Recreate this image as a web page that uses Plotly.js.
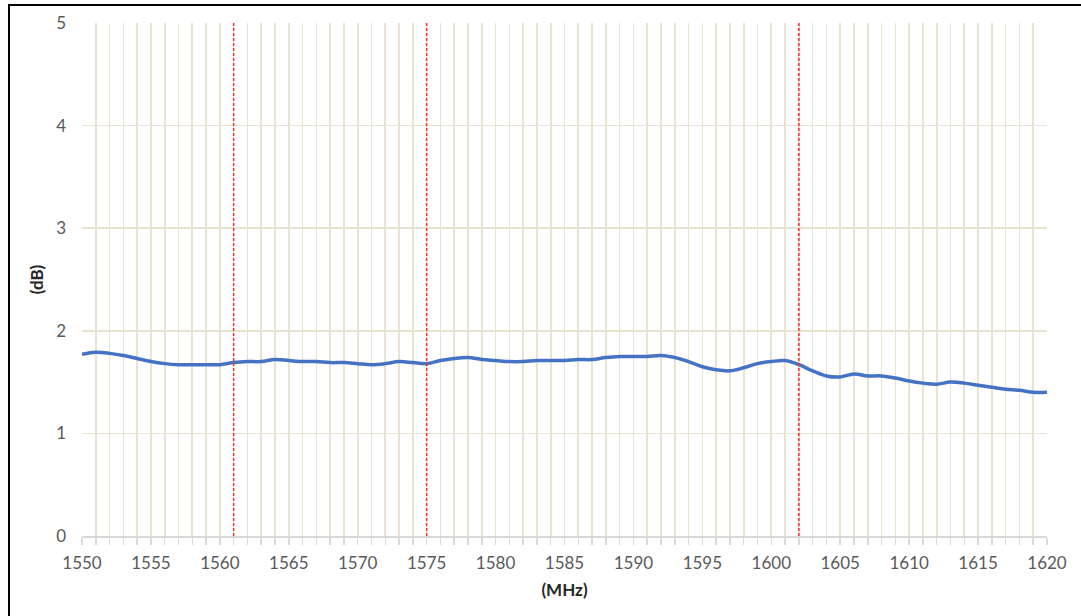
<!DOCTYPE html>
<html>
<head>
<meta charset="utf-8">
<script src="https://cdn.plot.ly/plotly-3.0.1.min.js"></script>
<style>
  html, body { margin: 0; padding: 0; background: #fff; }
  #wrap { position: relative; width: 1081px; height: 616px; overflow: hidden; }
  #chart { width: 1081px; height: 616px; }
  #frame { position: absolute; left: 8px; top: 4px; width: 1200px; height: 700px;
           border-left: 2px solid #000; border-top: 2px solid #000; pointer-events: none; }
</style>
</head>
<body>
<div id="wrap">
  <div id="chart"></div>
  <div id="frame"></div>
</div>
<script>
const freqMHz = [1550,1551,1552,1553,1554,1555,1556,1557,1558,1559,1560,
  1561,1562,1563,1564,1565,1566,1567,1568,1569,1570,
  1571,1572,1573,1574,1575,1576,1577,1578,1579,1580,
  1581,1582,1583,1584,1585,1586,1587,1588,1589,1590,
  1591,1592,1593,1594,1595,1596,1597,1598,1599,1600,
  1601,1602,1603,1604,1605,1606,1607,1608,1609,1610,
  1611,1612,1613,1614,1615,1616,1617,1618,1619,1620];
const lossDb = [1.77,1.79,1.78,1.76,1.73,1.70,1.68,1.67,1.67,1.67,1.67,
  1.69,1.70,1.70,1.72,1.71,1.70,1.70,1.69,1.69,1.68,
  1.67,1.68,1.70,1.69,1.68,1.71,1.73,1.74,1.72,1.71,
  1.70,1.70,1.71,1.71,1.71,1.72,1.72,1.74,1.75,1.75,
  1.75,1.76,1.74,1.70,1.65,1.62,1.61,1.64,1.68,1.70,
  1.71,1.67,1.61,1.56,1.55,1.58,1.56,1.56,1.54,1.51,
  1.49,1.48,1.50,1.49,1.47,1.45,1.43,1.42,1.40,1.40];
const markerFreqs = [1561, 1575, 1602];
const xTitle = '(MHz)';
const yTitle = '(dB)';

const gridColor = '#e9e4d2';
const fontFam = 'Lato, "Open Sans", sans-serif';

const shapes = markerFreqs.map(f => ({
  type: 'line', xref: 'x', yref: 'paper', x0: f, x1: f, y0: 0, y1: 1,
  line: { color: '#ff2a2a', width: 1.5, dash: '3px,2px' }, layer: 'above'
}));

const trace = {
  x: freqMHz, y: lossDb, type: 'scatter', mode: 'lines',
  line: { color: '#4472c4', width: 3.5, shape: 'spline', smoothing: 1 },
  hoverinfo: 'x+y'
};

const layout = {
  width: 1081, height: 616,
  margin: { l: 82, r: 34, t: 23, b: 80 },
  paper_bgcolor: '#ffffff', plot_bgcolor: '#ffffff',
  showlegend: false,
  font: { family: fontFam, size: 17, color: '#595959' },
  xaxis: {
    range: [1550, 1620], dtick: 5, tick0: 1550,
    showgrid: true, gridcolor: gridColor, gridwidth: 1.6,
    ticks: 'outside', ticklen: 7, tickcolor: '#dadada', tickwidth: 1.5,
    minor: { dtick: 1, showgrid: true, gridcolor: gridColor, gridwidth: 1.6,
             ticks: 'outside', ticklen: 7, tickcolor: '#dadada', tickwidth: 1.5 },
    showline: true, linecolor: '#d9d9d9', linewidth: 1.6,
    zeroline: false, ticklabelstandoff: 4,
    tickfont: { family: fontFam, size: 17, color: '#595959' },
    title: { text: '<b>' + xTitle + '</b>', standoff: 12,
             font: { family: fontFam, size: 17, color: '#262626' } }
  },
  yaxis: {
    range: [0, 5], dtick: 1,
    showgrid: true, gridcolor: gridColor, gridwidth: 1.6,
    ticks: '', showline: false, zeroline: false,
    ticklabelstandoff: 15,
    tickfont: { family: fontFam, size: 17, color: '#595959' },
    title: { text: '<b>' + yTitle + '</b>', standoff: 8,
             font: { family: fontFam, size: 17, color: '#262626' } }
  },
  shapes: shapes
};

Plotly.newPlot('chart', [trace], layout, { displayModeBar: false, staticPlot: true });
</script>
</body>
</html>
